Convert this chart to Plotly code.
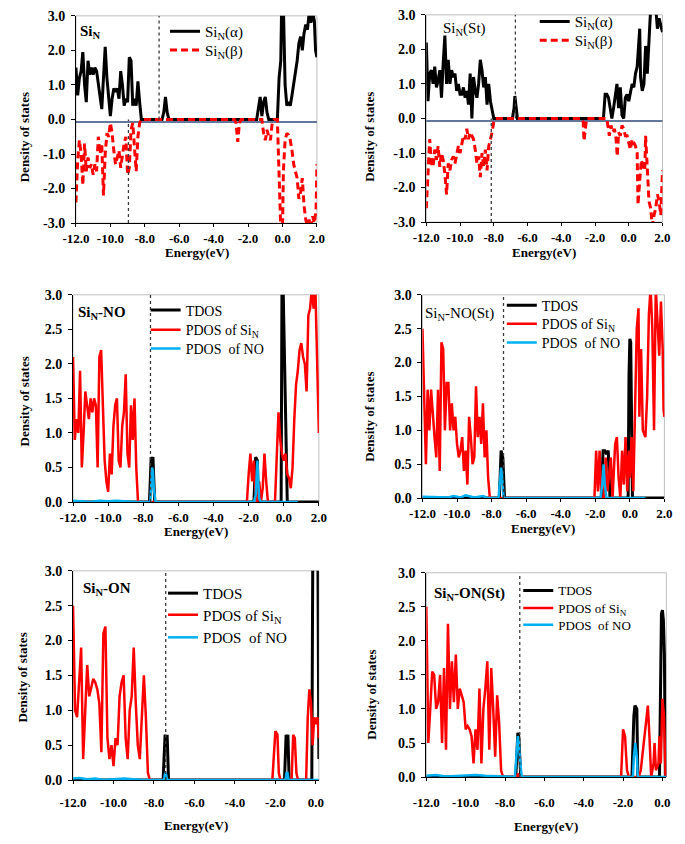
import plotly.graph_objects as go

FONT = "Liberation Serif"
RED = "#FF0000"
BLUE = "#00B0F0"
BLACK = "#000000"

# ---------------- data (energies in eV, DOS values) ----------------
VB_E = [-12.0, -11.9, -11.8, -11.7, -11.6, -11.5, -11.4, -11.3, -11.2, -11.1,
        -11.0, -10.9, -10.8, -10.7, -10.6, -10.5, -10.4, -10.3, -10.2, -10.1,
        -10.0, -9.9, -9.8, -9.7, -9.6, -9.5, -9.4, -9.3, -9.2, -9.1,
        -9.0, -8.9, -8.8, -8.7, -8.6, -8.5, -8.4, -8.3, -8.2, -8.1,
        -8.0]

X_TICKS_FULL = [-12, -10, -8, -6, -4, -2, 0, 2]
X_TEXT_FULL = ["-12.0", "-10.0", "-8.0", "-6.0", "-4.0", "-2.0", "0.0", "2.0"]
X_TICKS_SHORT = [-12, -10, -8, -6, -4, -2, 0]
X_TEXT_SHORT = ["-12.0", "-10.0", "-8.0", "-6.0", "-4.0", "-2.0", "0.0"]
Y_TICKS_SPIN = [-3, -2, -1, 0, 1, 2, 3]
Y_TEXT_SPIN = ["-3.0", "-2.0", "-1.0", "0.0", "1.0", "2.0", "3.0"]
Y_TICKS_PDOS = [0, 0.5, 1, 1.5, 2, 2.5, 3]
Y_TEXT_PDOS = ["0.0", "0.5", "1.0", "1.5", "2.0", "2.5", "3.0"]

# Panel 1: SiN
SIN_ALPHA_VB = [1.5, 0.7, 1.2, 1.4, 1.95, 1.0, 0.5, 1.7, 1.3, 1.5,
                1.3, 1.5, 1.4, 1.0, 0.6, 0.3, 1.2, 2.1, 1.2, 0.6,
                0.1, 0.6, 0.9, 0.8, 0.9, 0.6, 1.4, 1.0, 0.4, 0.6,
                0.5, 1.8, 1.7, 0.4, 0.6, 0.4, 1.1, 0.5, 0.0, 0.0,
                0.0]
SIN_ALPHA_CB = [(-7.0, 0.0), (-6.9, 0.2), (-6.8, 0.65), (-6.7, 0.2), (-6.6, 0.0),
                (-1.5, 0.0), (-1.4, 0.4), (-1.3, 0.65), (-1.2, 0.1), (-1.1, 0.5),
                (-1.0, 0.65), (-0.9, 0.2), (-0.8, 0.0), (-0.3, 0.0), (-0.2, 1.2),
                (-0.1, 1.7), (-0.05, 3.3), (0.0, 3.3), (0.05, 3.3), (0.15, 1.0),
                (0.25, 0.4), (0.35, 0.5), (0.45, 0.4), (0.55, 0.7), (0.65, 1.0),
                (0.75, 1.4), (0.85, 1.7), (0.95, 2.2), (1.05, 2.4), (1.15, 2.0),
                (1.25, 2.5), (1.35, 2.75), (1.45, 2.6), (1.55, 3.1), (1.65, 2.8),
                (1.75, 3.1), (1.85, 2.85), (1.92, 2.0), (2.0, 1.8)]
SIN_BETA_VB = [-2.4, -1.2, -0.6, -1.0, -1.9, -0.7, -1.5, -1.1, -1.4, -1.3,
               -1.6, -1.3, -1.5, -0.5, -1.0, -0.7, -2.2, -1.0, -0.4, -0.5,
               -0.1, -0.4, -0.9, -1.3, -1.1, -0.9, -1.4, -1.0, -0.7, -0.5,
               -1.6, -1.4, -0.3, -0.1, -0.8, -1.5, -0.5, -0.1, 0.0, 0.0,
               0.0]
SIN_BETA_CB = [(-2.8, 0.0), (-2.7, -0.1), (-2.6, -0.65), (-2.5, -0.1), (-2.4, 0.0),
               (-1.2, 0.0), (-1.1, -0.4), (-1.0, -0.6), (-0.9, -0.3), (-0.8, -0.5),
               (-0.7, -0.6), (-0.6, -0.1), (-0.5, 0.0), (-0.3, 0.0), (-0.2, -1.3),
               (-0.1, -3.2), (0.0, -3.2), (0.05, -1.5), (0.15, -0.6), (0.25, -0.4),
               (0.35, -0.45), (0.45, -0.6), (0.55, -0.9), (0.65, -1.3), (0.75, -1.5),
               (0.85, -1.7), (0.95, -2.3), (1.05, -2.1), (1.15, -1.7), (1.25, -2.5),
               (1.35, -2.9), (1.45, -3.1), (1.55, -2.9), (1.65, -3.1), (1.75, -2.8),
               (1.85, -3.0), (1.95, -2.6), (2.0, -1.3)]

# Panel 2: SiN(St)
SIN_ST_ALPHA_VB = [2.2, 0.5, 1.3, 1.4, 1.0, 1.5, 0.9, 1.1, 1.4, 0.6,
                   1.6, 2.4, 1.0, 1.7, 1.0, 1.4, 1.2, 1.3, 0.8, 1.0,
                   0.7, 0.7, 0.9, 0.6, 0.8, 0.4, 1.3, 0.0, 1.2, 0.8,
                   0.6, 1.0, 1.7, 1.4, 0.9, 1.2, 0.4, 1.0, 0.5, 0.2,
                   0.0]
SIN_ST_ALPHA_CB = [(-6.9, 0.0), (-6.8, 0.3), (-6.75, 0.65), (-6.65, 0.2), (-6.6, 0.0),
                   (-1.5, 0.0), (-1.4, 0.7), (-1.3, 0.7), (-1.2, 0.6), (-1.1, 0.3),
                   (-1.0, 0.0), (-0.9, 0.3), (-0.8, 0.6), (-0.7, 1.0), (-0.6, 0.3),
                   (-0.5, 0.9), (-0.4, 0.1), (-0.3, 0.0), (-0.2, 0.6), (-0.1, 0.7),
                   (0.0, 0.5), (0.1, 0.8), (0.2, 1.0), (0.3, 0.9), (0.4, 1.3),
                   (0.5, 1.5), (0.6, 2.3), (0.65, 2.6), (0.7, 1.2), (0.8, 0.8),
                   (0.9, 1.0), (1.0, 2.1), (1.1, 1.3), (1.2, 2.3), (1.3, 3.2),
                   (1.4, 3.2), (1.5, 3.1), (1.6, 3.2), (1.7, 2.6), (1.8, 2.9),
                   (1.9, 2.7), (2.0, 2.5)]
SIN_ST_BETA_VB = [-2.6, -1.6, -0.6, -1.3, -1.4, -0.9, -1.2, -0.8, -1.4, -1.0,
                  -1.2, -1.6, -2.2, -1.3, -1.5, -1.2, -1.1, -1.3, -1.0, -0.8,
                  -1.0, -0.7, -0.5, -0.6, -0.3, -0.6, -0.4, -0.5, -0.6, -0.9,
                  -1.3, -1.1, -1.7, -1.0, -1.4, -0.9, -1.5, -0.8, -0.6, -0.4,
                  -0.1]
SIN_ST_BETA_CB = [(-7.9, 0.0), (-2.8, 0.0), (-2.7, -0.1), (-2.65, -0.65), (-2.55, -0.1),
                  (-2.5, 0.0), (-1.3, 0.0), (-1.25, -0.2), (-1.15, -0.5), (-1.05, -0.2),
                  (-0.95, -0.4), (-0.85, -0.3), (-0.75, -0.6), (-0.68, -1.1), (-0.6, -0.4),
                  (-0.5, -0.5), (-0.4, -0.2), (-0.3, -0.3), (-0.2, -0.5), (-0.1, -0.5),
                  (0.0, -0.7), (0.1, -0.9), (0.2, -0.6), (0.3, -0.7), (0.4, -0.8),
                  (0.5, -1.0), (0.55, -2.5), (0.65, -1.8), (0.75, -1.2), (0.85, -1.4),
                  (0.95, -1.5), (1.0, -0.5), (1.1, -1.5), (1.2, -2.4), (1.3, -2.6),
                  (1.4, -3.1), (1.5, -2.8), (1.6, -2.6), (1.7, -2.2), (1.8, -2.4),
                  (1.9, -2.8), (2.0, -1.5)]

# Panel 3: SiN-NO
NO_SIN_VB = [2.1, 0.9, 1.2, 1.0, 1.9, 0.5, 1.0, 1.6, 1.4, 1.2,
             1.5, 1.3, 1.5, 1.4, 0.5, 2.1, 2.2, 1.2, 0.6, 0.3,
             0.15, 0.7, 0.4, 1.1, 1.4, 1.5, 0.6, 0.5, 1.1, 1.3,
             1.85, 0.7, 0.5, 1.4, 0.9, 1.5, 0.5, 0.0, 0.0, 0.0,
             0.0]
NO_SIN_CB = [(-2.1, 0.0), (-2.0, 0.4), (-1.9, 0.7), (-1.8, 0.3), (-1.7, 0.6),
             (-1.6, 0.1), (-1.5, 0.0), (-1.4, 0.3), (-1.3, 0.0), (-1.2, 0.2),
             (-1.1, 0.7), (-1.0, 0.3), (-0.9, 0.0), (-0.5, 0.0), (-0.4, 0.6),
             (-0.3, 1.3), (-0.2, 0.9), (-0.1, 0.7), (0.0, 0.6), (0.1, 0.7),
             (0.2, 0.4), (0.3, 0.35), (0.4, 0.2), (0.5, 0.5), (0.6, 1.2),
             (0.7, 1.7), (0.8, 1.9), (0.9, 2.2), (1.0, 2.3), (1.1, 2.1),
             (1.2, 2.0), (1.3, 1.6), (1.4, 2.7), (1.5, 2.8), (1.6, 3.1),
             (1.7, 2.8), (1.8, 3.1), (1.9, 2.0), (2.0, 1.0)]
NO_TDOS = [(-12.0, 0.0), (-7.65, 0.0), (-7.55, 0.65), (-7.5, 0.6), (-7.45, 0.65),
           (-7.35, 0.0), (-1.7, 0.0), (-1.6, 0.65), (-1.5, 0.6), (-1.45, 0.0),
           (-0.15, 0.0), (-0.14, 1.0), (-0.1, 3.3), (-0.05, 3.3), (0.12, 0.7),
           (0.2, 0.0), (2.0, 0.0)]
NO_NO = [(-12.0, 0.02), (-11.5, 0.01), (-11.0, 0.0), (-10.5, 0.02), (-10.0, 0.01),
         (-9.5, 0.02), (-9.0, 0.01), (-8.5, 0.0), (-7.6, 0.0), (-7.55, 0.3),
         (-7.5, 0.5), (-7.45, 0.45), (-7.4, 0.2), (-7.3, 0.0), (-1.7, 0.0),
         (-1.6, 0.1), (-1.55, 0.4), (-1.5, 0.6), (-1.45, 0.3), (-1.4, 0.05),
         (-1.3, 0.0), (0.8, 0.0)]

# Panel 4: SiN-NO(St)
NOST_SIN_VB = [2.5, 1.6, 0.5, 1.6, 1.0, 1.6, 1.2, 0.9, 0.6, 1.6,
               0.4, 2.3, 2.2, 1.0, 1.7, 1.7, 1.0, 1.4, 1.0, 1.2,
               0.8, 0.6, 0.7, 0.9, 0.4, 0.7, 0.2, 1.2, 0.9, 0.5,
               0.6, 1.65, 0.9, 1.2, 0.8, 1.4, 0.6, 1.0, 0.3, 0.0,
               0.0]
NOST_SIN_CB = [(-2.05, 0.0), (-1.95, 0.7), (-1.85, 0.1), (-1.75, 0.7), (-1.65, 0.0),
               (-1.5, 0.0), (-1.4, 0.6), (-1.3, 0.1), (-1.1, 0.6), (-1.0, 0.0),
               (-0.85, 0.8), (-0.75, 0.9), (-0.65, 0.3), (-0.55, 0.0), (-0.45, 0.7),
               (-0.35, 0.2), (-0.25, 0.9), (-0.15, 0.1), (-0.05, 0.7), (0.0, 0.3),
               (0.1, 0.9), (0.2, 0.1), (0.3, 1.4), (0.4, 2.5), (0.5, 2.8),
               (0.55, 1.2), (0.65, 2.2), (0.75, 1.0), (0.9, 0.9), (1.0, 1.5),
               (1.1, 2.7), (1.2, 3.1), (1.3, 2.5), (1.4, 1.0), (1.5, 3.1),
               (1.6, 2.5), (1.7, 2.1), (1.8, 2.9), (1.9, 2.2), (1.95, 1.3),
               (2.0, 1.2)]
NOST_TDOS = [(-12.0, 0.0), (-7.55, 0.0), (-7.45, 0.7), (-7.35, 0.6), (-7.25, 0.0),
             (-1.65, 0.0), (-1.55, 0.7), (-1.45, 0.7), (-1.35, 0.65), (-1.25, 0.7),
             (-1.15, 0.0), (-0.1, 0.0), (-0.05, 1.8), (0.0, 2.35), (0.05, 2.3),
             (0.1, 1.0), (0.15, 0.0), (2.0, 0.0)]
NOST_NO = [(-12.0, 0.02), (-11.0, 0.02), (-10.5, 0.01), (-10.2, 0.03), (-9.8, 0.01),
           (-9.5, 0.04), (-9.0, 0.01), (-8.5, 0.03), (-8.2, 0.0), (-7.6, 0.0),
           (-7.5, 0.3), (-7.45, 0.45), (-7.4, 0.35), (-7.3, 0.0), (-1.7, 0.0),
           (-1.6, 0.2), (-1.52, 0.5), (-1.45, 0.2), (-1.35, 0.0), (0.9, 0.0)]

# Panel 5: SiN-ON
ON_SIN_VB = [2.5, 1.0, 0.9, 1.5, 1.9, 0.3, 1.0, 1.65, 1.2, 1.35,
             1.45, 1.4, 1.3, 1.1, 0.4, 2.1, 2.2, 0.6, 0.3, 0.5,
             0.2, 0.6, 0.5, 1.2, 1.4, 1.5, 0.6, 0.3, 1.0, 1.2,
             1.9, 1.1, 0.5, 0.3, 1.0, 1.5, 0.9, 0.1, 0.0, 0.0,
             0.0]
ON_SIN_CB = [(-2.15, 0.0), (-2.0, 0.7), (-1.9, 0.65), (-1.83, 0.1), (-1.75, 0.0),
             (-1.2, 0.0), (-1.12, 0.65), (-1.04, 0.6), (-0.96, 0.1), (-0.88, 0.0),
             (-0.48, 0.0), (-0.4, 0.9), (-0.32, 1.3), (-0.24, 1.1), (-0.16, 0.5),
             (-0.08, 0.9), (0.0, 0.8), (0.08, 0.9), (0.15, 0.6)]
ON_TDOS = [(-12.0, 0.0), (-7.55, 0.0), (-7.45, 0.65), (-7.4, 0.55), (-7.35, 0.65),
           (-7.28, 0.0), (-1.55, 0.0), (-1.47, 0.65), (-1.43, 0.5), (-1.38, 0.65),
           (-1.32, 0.0), (-0.2, 0.0), (-0.15, 3.3), (0.05, 3.3), (0.1, 3.3),
           (0.15, 0.3)]
ON_NO = [(-12.0, 0.02), (-11.7, 0.03), (-11.3, 0.01), (-10.9, 0.02), (-10.5, 0.0),
         (-9.5, 0.02), (-8.5, 0.0), (-7.5, 0.0), (-7.45, 0.1), (-7.4, 0.08),
         (-7.35, 0.0), (-1.5, 0.0), (-1.45, 0.1), (-1.4, 0.1), (-1.35, 0.0),
         (0.15, 0.0)]

# Panel 6: SiN-ON(St)
ONST_SIN_VB = [2.5, 0.5, 1.0, 1.55, 1.5, 1.0, 1.1, 1.5, 0.5, 1.6,
               0.4, 2.25, 1.0, 1.7, 1.1, 1.8, 1.0, 1.3, 1.2, 1.1,
               0.7, 0.75, 0.7, 0.6, 0.2, 0.7, 0.4, 1.3, 0.2, 1.0,
               1.3, 1.7, 0.4, 1.6, 1.0, 0.3, 1.2, 0.8, 0.1, 0.0,
               0.0]
ONST_SIN_CB = [(-7.4, 0.0), (-7.35, 0.05), (-7.25, 0.0), (-2.1, 0.0), (-2.0, 0.7),
               (-1.9, 0.6), (-1.8, 0.1), (-1.7, 0.0), (-1.2, 0.0), (-1.1, 0.1),
               (-0.95, 0.5), (-0.8, 0.9), (-0.74, 1.05), (-0.66, 0.6), (-0.57, 0.0),
               (-0.45, 0.2), (-0.4, 0.5), (-0.33, 0.1), (-0.2, 0.2), (-0.15, 0.6),
               (-0.08, 0.2), (0.0, 1.15), (0.08, 0.9), (0.16, 0.0), (0.2, 0.0)]
ONST_TDOS = [(-12.0, 0.0), (-7.45, 0.0), (-7.35, 0.65), (-7.3, 0.6), (-7.2, 0.0),
             (-1.55, 0.0), (-1.45, 0.9), (-1.4, 1.05), (-1.3, 1.0), (-1.25, 0.0),
             (-0.15, 0.0), (-0.1, 1.4), (-0.05, 2.4), (0.0, 2.45), (0.05, 2.3),
             (0.1, 1.8), (0.15, 0.0), (0.2, 0.0)]
ONST_NO = [(-12.0, 0.02), (-11.5, 0.03), (-11.0, 0.01), (-10.2, 0.02), (-9.5, 0.03),
           (-9.0, 0.02), (-8.5, 0.01), (-7.5, 0.0), (-7.4, 0.4), (-7.35, 0.6),
           (-7.3, 0.55), (-7.25, 0.3), (-7.15, 0.0), (-1.5, 0.0), (-1.45, 0.3),
           (-1.38, 0.5), (-1.3, 0.3), (-1.25, 0.0), (0.2, 0.0)]

# Fermi-level markers (energy, ymin, ymax) per panel
FERMI = [
    [(-7.17, 0, 3), (-8.95, -3, 0)],
    [(-6.72, 0, 3), (-8.15, -3, 0)],
    [(-7.59, 0, 3)],
    [(-7.31, 0, 3)],
    [(-7.42, 0, 3)],
    [(-7.25, 0, 3)],
]

PANEL_LABELS = ["Si<sub>N</sub>", "Si<sub>N</sub>(St)", "Si<sub>N</sub>-NO",
                "Si<sub>N</sub>-NO(St)", "Si<sub>N</sub>-ON", "Si<sub>N</sub>-ON(St)"]
NAME_ALPHA = "Si<sub>N</sub>(α)"
NAME_BETA = "Si<sub>N</sub>(β)"
NAME_TDOS = "TDOS"
NAME_PSIN = "PDOS of Si<sub>N</sub>"
NAME_PNO = "PDOS\u00a0 of NO"
X_TITLE = "Energy(eV)"
Y_TITLE = "Density of states"


def join(vb, cb):
    return VB_E + [e for e, _ in cb], vb + [v for _, v in cb]


def split(pairs):
    return [e for e, _ in pairs], [v for _, v in pairs]


# ---------------- layout helpers (pixels -> paper) ----------------
W, H = 685, 844


def px(x):
    return x / W


def py(y):
    return 1 - y / H


# plot-area boxes in pixels: (left, right, top, bottom)
BOXES = [(64, 313, 9, 220), (426, 670, 8, 219),
         (61, 315, 293, 504), (422, 672, 293, 500),
         (61, 315, 574, 787), (426, 674, 576, 784)]
XRANGES = [[-12, 2], [-12, 2], [-12, 2], [-12, 2], [-12, 0.15], [-12, 0.2]]
LABEL_POS = [(66, 25), (441, 22), (64, 312), (423, 313), (69, 593), (432, 598)]
LABEL_BOLD = [True, False, True, False, True, True]
XLABEL_STANDOFF = [0, 0, 0, 0, 7, 10]
XTITLE_POS = [(189, 250), (548, 250), (188, 534), (547, 531), (188, 833), (550, 834)]
YTITLE_POS = [(11, 133), (367, 132), (11, 402), (367, 417), (9, 683), (369, 700)]
# legend rows: (text left x, row centre y, font size) in trace order
LEGEND_ROWS = [
    [(202, 25, 15), (202, 44, 15)],
    [(584, 15, 15), (584, 34, 15)],
    [(182, 309, 14), (182, 329, 14), (182, 348, 14)],
    [(550, 304, 14), (550, 323, 14), (550, 342, 14)],
    [(200, 597, 15), (200, 619, 15), (200, 642, 15)],
    [(567, 594, 13), (567, 612, 13), (567, 629, 13)],
]
LEGEND_TEXT_OFFSET = 46

fig = go.Figure()

spin_sets = [
    (join(SIN_ALPHA_VB, SIN_ALPHA_CB), join(SIN_BETA_VB, SIN_BETA_CB)),
    (join(SIN_ST_ALPHA_VB, SIN_ST_ALPHA_CB), join(SIN_ST_BETA_VB, SIN_ST_BETA_CB)),
]
pdos_sets = [
    (split(NO_TDOS), join(NO_SIN_VB, NO_SIN_CB), split(NO_NO)),
    (split(NOST_TDOS), join(NOST_SIN_VB, NOST_SIN_CB), split(NOST_NO)),
    (split(ON_TDOS), join(ON_SIN_VB, ON_SIN_CB), split(ON_NO)),
    (split(ONST_TDOS), join(ONST_SIN_VB, ONST_SIN_CB), split(ONST_NO)),
]

legend_counter = [0]
legend_layouts = {}


def next_legend(panel, row):
    legend_counter[0] += 1
    n = legend_counter[0]
    key = "legend" if n == 1 else "legend%d" % n
    tx, ty, fs = LEGEND_ROWS[panel - 1][row]
    legend_layouts[key] = dict(x=px(tx - LEGEND_TEXT_OFFSET), y=py(ty),
                               xanchor="left", yanchor="middle",
                               bgcolor="rgba(0,0,0,0)", borderwidth=0,
                               font=dict(family=FONT, size=fs, color="black"),
                               tracegroupgap=0)
    return key


def axes_ids(i):
    s = "" if i == 1 else str(i)
    return "x" + s, "y" + s


for i, (a, b) in enumerate(spin_sets, 1):
    xa, ya = axes_ids(i)
    fig.add_trace(go.Scatter(x=a[0], y=a[1], mode="lines", name=NAME_ALPHA,
                             line=dict(color=BLACK, width=3), xaxis=xa, yaxis=ya,
                             legend=next_legend(i, 0)))
    fig.add_trace(go.Scatter(x=b[0], y=b[1], mode="lines", name=NAME_BETA,
                             line=dict(color=RED, width=3, dash="7px,4px"),
                             xaxis=xa, yaxis=ya, legend=next_legend(i, 1)))

for i, (t, s, n) in enumerate(pdos_sets, 3):
    xa, ya = axes_ids(i)
    fig.add_trace(go.Scatter(x=t[0], y=t[1], mode="lines", name=NAME_TDOS,
                             line=dict(color=BLACK, width=3), xaxis=xa, yaxis=ya,
                             legend=next_legend(i, 0)))
    fig.add_trace(go.Scatter(x=s[0], y=s[1], mode="lines", name=NAME_PSIN,
                             line=dict(color=RED, width=2.5), xaxis=xa, yaxis=ya,
                             legend=next_legend(i, 1)))
    fig.add_trace(go.Scatter(x=n[0], y=n[1], mode="lines", name=NAME_PNO,
                             line=dict(color=BLUE, width=2.5), xaxis=xa, yaxis=ya,
                             legend=next_legend(i, 2)))

layout = dict(width=W, height=H, margin=dict(l=0, r=0, t=0, b=0),
              paper_bgcolor="white", plot_bgcolor="white",
              font=dict(family=FONT, color="black"), showlegend=True)
layout.update(legend_layouts)

shapes = []
annotations = []
xtick_font = dict(family=FONT, size=13, color="black", weight="bold")
ytick_font = dict(family=FONT, size=14, color="black", weight="bold")
title_font = dict(family=FONT, size=13, color="black", weight="bold")

for i in range(1, 7):
    s = "" if i == 1 else str(i)
    l, r, t, b = BOXES[i - 1]
    full = i <= 4
    layout["xaxis" + s] = dict(
        domain=[px(l), px(r)], anchor="y" + s, range=XRANGES[i - 1],
        tickvals=X_TICKS_FULL if full else X_TICKS_SHORT,
        ticktext=X_TEXT_FULL if full else X_TEXT_SHORT,
        ticks="outside", ticklen=3, tickcolor="black", tickwidth=1,
        ticklabelstandoff=XLABEL_STANDOFF[i - 1],
        showline=True, linecolor="black", linewidth=1, showgrid=False, zeroline=False,
        tickfont=xtick_font)
    spin = i <= 2
    layout["yaxis" + s] = dict(
        domain=[py(b), py(t)], anchor="x" + s,
        range=[-3, 3] if spin else [0, 3],
        tickvals=Y_TICKS_SPIN if spin else Y_TICKS_PDOS,
        ticktext=Y_TEXT_SPIN if spin else Y_TEXT_PDOS,
        ticks="outside", ticklen=4, tickcolor="black", tickwidth=1,
        ticklabelstandoff=3,
        showline=True, linecolor="black", linewidth=1, showgrid=False, zeroline=False,
        tickfont=ytick_font)
    # plot-area frame
    shapes.append(dict(type="rect", xref="x" + s + " domain", yref="y" + s + " domain",
                       x0=0, x1=1, y0=0, y1=1, line=dict(color="#BFBFBF", width=1),
                       layer="below"))
    # Fermi-level dotted lines
    for e, y0, y1 in FERMI[i - 1]:
        shapes.append(dict(type="line", xref="x" + s, yref="y" + s, x0=e, x1=e, y0=y0, y1=y1,
                           line=dict(color="#3A3A3A", width=1.3, dash="dot")))
    if spin:
        shapes.append(dict(type="line", xref="x" + s + " domain", yref="y" + s,
                           x0=0, x1=1, y0=-0.07, y1=-0.07,
                           line=dict(color="#2F4A7A", width=1.5), layer="below"))
    lx, ly = LABEL_POS[i - 1]
    txt = PANEL_LABELS[i - 1]
    if LABEL_BOLD[i - 1]:
        txt = "<b>" + txt + "</b>"
    annotations.append(dict(text=txt, xref="paper", yref="paper", x=px(lx), y=py(ly),
                            xanchor="left", yanchor="middle", showarrow=False,
                            font=dict(family=FONT, size=15, color="black")))
    tx, ty = XTITLE_POS[i - 1]
    annotations.append(dict(text=X_TITLE, xref="paper", yref="paper", x=px(tx), y=py(ty),
                            xanchor="center", yanchor="middle", showarrow=False,
                            font=title_font))
    yx, yy = YTITLE_POS[i - 1]
    annotations.append(dict(text=Y_TITLE, xref="paper", yref="paper", x=px(yx), y=py(yy),
                            xanchor="center", yanchor="middle", showarrow=False,
                            textangle=-90, font=title_font))

layout["shapes"] = shapes
layout["annotations"] = annotations
fig.update_layout(**layout)

fig.write_html("out.html", config={"displayModeBar": False},
               post_script="document.body.style.margin='0';")
